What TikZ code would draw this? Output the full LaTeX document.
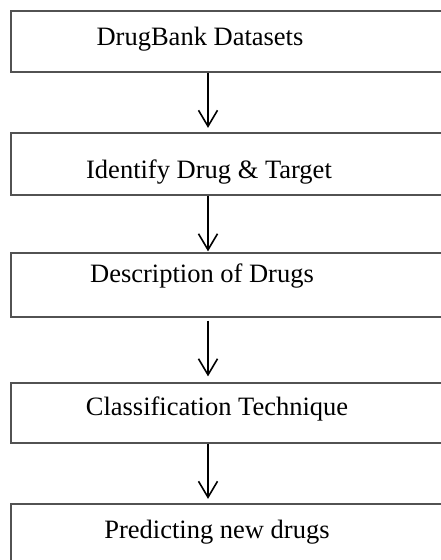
\documentclass[tikz,border=0pt]{standalone}
\usepackage{fontspec}
\setmainfont{Liberation Serif}
\usetikzlibrary{arrows.meta}
\begin{document}
\begin{tikzpicture}[x=1pt,y=-1pt,
  stepbox/.style={draw=black!68,line width=1.3pt,rectangle,inner sep=0pt,minimum width=436pt},
  lbl/.style={anchor=base,inner sep=0pt,font=\fontsize{26.5}{30}\selectfont},
  arr/.style={line width=1.6pt,-{Straight Barb[length=16pt,width=19pt,line width=1.6pt]}}]
\clip (0,0) rectangle (441,560);
\fill[white] (0,0) rectangle (441,560);
\node[stepbox,minimum height=61pt] (b1) at (229,41.5) {};
\node[stepbox,minimum height=62pt] (b2) at (229,164) {};
\node[stepbox,minimum height=64pt] (b3) at (229,285) {};
\node[stepbox,minimum height=60pt] (b4) at (229,413) {};
\node[stepbox,minimum height=70pt] (b5) at (229,539) {};
\coordinate (ax) at (208,0);
\node[lbl] (t1) at (200,45) {DrugBank Datasets};
\node[lbl] (t2) at (209,178) {Identify Drug \& Target};
\node[lbl] (t3) at (202,282) {Description of Drugs};
\node[lbl] (t4) at (217,415) {Classification Technique};
\node[lbl] (t5) at (217,538) {Predicting new drugs};
\draw[arr,shorten >=4.5pt] (b1.south -| ax) -- (b2.north -| ax);
\draw[arr,shorten >=1pt] (b2.south -| ax) -- (b3.north -| ax);
\draw[arr,shorten <=3pt,shorten >=6pt] (b3.south -| ax) -- (b4.north -| ax);
\draw[arr,shorten >=4.5pt] (b4.south -| ax) -- (b5.north -| ax);
\end{tikzpicture}
\end{document}
